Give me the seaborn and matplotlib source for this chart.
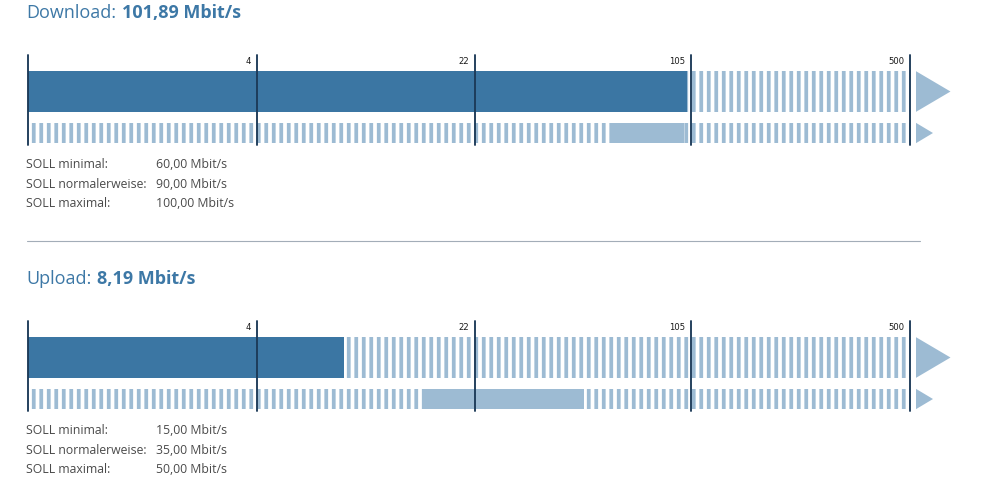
import numpy as np
import pandas as pd
import matplotlib
matplotlib.use("Agg")
import matplotlib.pyplot as plt
import matplotlib.transforms as mtransforms
from matplotlib.patches import Polygon
from matplotlib.lines import Line2D
import seaborn as sns

# ---------------- data ----------------
scale_ticks = [0, 4, 22, 105, 500]
tick_labels = ["", "4", "22", "105", "500"]
panels = ["Download", "Upload"]
measured = [101.89, 8.19]
soll_min = [60.0, 15.0]
soll_normal = [90.0, 35.0]
soll_max = [100.0, 50.0]
soll_names = ["SOLL minimal:", "SOLL normalerweise:", "SOLL maximal:"]
rows = ["Messung", "SOLL"]
unit = "Mbit/s"

# ---------------- style ----------------
DARK = "#3b76a3"
LIGHT = "#9dbbd3"
TICK = "#1c3a58"
TITLE = "#3d78a6"
TXT = "#4a4a4a"
SEP = "#a3adb8"
BODY_FONT = ["Open Sans", "DejaVu Sans"]

sns.set_theme(style="white")
plt.rcParams["font.family"] = BODY_FONT
plt.rcParams["hatch.linewidth"] = 3.0

W, H, DPI = 999, 493, 90
fig = plt.figure(figsize=(W / DPI, H / DPI), dpi=DPI)
fig.patch.set_facecolor("white")


def fx(px):
    return px / W


def fy(py):
    return 1 - py / H


def de(v):
    return f"{v:,.2f}".replace(",", "X").replace(".", ",").replace("X", ".")


# piecewise scale: each segment between ticks gets its own width,
# with a compressed (power) mapping inside the segment
SEG_W = np.array([229.5, 218.0, 216.0, 219.5])
SEG_POS = np.concatenate([[0.0], np.cumsum(SEG_W)])
EDGES = np.array(scale_ticks, dtype=float)
P = 0.1


def _g(v):
    return np.sign(v) * np.abs(v) ** P


def forward(v):
    v = np.asarray(v, dtype=float)
    k = np.clip(np.searchsorted(EDGES, v, side="right") - 1, 0, len(SEG_W) - 1)
    a, b = EDGES[k], EDGES[k + 1]
    with np.errstate(all="ignore"):
        frac = np.where(k == 0, (v - a) / (b - a), (_g(v) - _g(a)) / (_g(b) - _g(a)))
    return SEG_POS[k] + frac * SEG_W[k]


def inverse(x):
    x = np.asarray(x, dtype=float)
    k = np.clip(np.searchsorted(SEG_POS, x, side="right") - 1, 0, len(SEG_W) - 1)
    frac = (x - SEG_POS[k]) / SEG_W[k]
    a, b = EDGES[k], EDGES[k + 1]
    lin = a + frac * (b - a)
    gv = _g(a) + frac * (_g(b) - _g(a))
    with np.errstate(all="ignore"):
        pw = np.sign(gv) * np.abs(gv) ** (1 / P)
    return np.where(k == 0, lin, pw)


renderer = fig.canvas.get_renderer()
AX_L, AX_R = 27.5, 910.5
ax_w_px = AX_R - AX_L

for i, name in enumerate(panels):
    off = 266 * i
    # ---- title ----
    t1 = fig.text(fx(26), fy(18.5 + off), f"{name}:", fontsize=14.4, color=TITLE,
                  va="baseline", ha="left")
    bb = t1.get_window_extent(renderer=renderer)
    fig.text((bb.x1 + 5.5) / W, fy(18.5 + off), f"{de(measured[i])} {unit}",
             fontsize=14.4, color=TITLE, fontweight="bold", va="baseline", ha="left")

    # ---- scale axes ----
    ax = fig.add_axes([fx(AX_L), fy(145 + off), ax_w_px / W, 90 / H])
    ax.set_xscale("function", functions=(forward, inverse))
    ax.set_xlim(0, 500)

    df = pd.DataFrame({"Zeile": [rows[0]], unit: [measured[i]]})
    sns.barplot(data=df, x=unit, y="Zeile", order=rows, orient="h", width=0.98,
                color=DARK, saturation=1, errorbar=None, ax=ax, zorder=3,
                linewidth=0)

    # striped background (full scale) for both rows
    ax.barh(rows, [scale_ticks[-1]] * 2, height=[0.98, 0.48], left=0,
            color="white", edgecolor=LIGHT, hatch="||", linewidth=0, zorder=1)
    # SOLL range
    ax.barh(rows[1], soll_max[i] - soll_min[i], left=soll_min[i], height=0.48,
            color=LIGHT, linewidth=0, zorder=2)

    ax.set_ylim(1.289, -0.88)

    # tick lines + labels
    for v, lab in zip(scale_ticks, tick_labels):
        ax.axvline(v, color=TICK, lw=1.5, zorder=5, clip_on=False)
        if lab:
            ax.annotate(lab, xy=(v, 1), xycoords=("data", "axes fraction"),
                        xytext=(-6, -6.5), textcoords="offset pixels",
                        ha="right", va="center", fontsize=6.8, color="#1a1a1a",
                        family=["DejaVu Sans"])

    # arrows after the scale end
    tr = mtransforms.blended_transform_factory(ax.transAxes, ax.transData)
    x0 = 1 + 5.5 / ax_w_px
    big = Polygon([[x0, -0.49], [x0, 0.49], [1 + 40 / ax_w_px, 0.0]], closed=True,
                  transform=tr, facecolor=LIGHT, edgecolor="none", clip_on=False)
    small = Polygon([[x0, 1 - 0.245], [x0, 1 + 0.245], [1 + 22.5 / ax_w_px, 1.0]],
                    closed=True, transform=tr, facecolor=LIGHT, edgecolor="none",
                    clip_on=False)
    ax.add_patch(big)
    ax.add_patch(small)

    ax.set_xlabel("")
    ax.set_ylabel("")
    ax.set_xticks([])
    ax.set_yticks([])
    ax.minorticks_off()
    for s in ax.spines.values():
        s.set_visible(False)
    ax.set_facecolor("none")

    # ---- SOLL text ----
    vals = [soll_min[i], soll_normal[i], soll_max[i]]
    for j, (lab, v) in enumerate(zip(soll_names, vals)):
        yb = 168.3 + 19.5 * j + off
        fig.text(fx(26.5), fy(yb), lab, fontsize=9.8, color=TXT, va="baseline")
        fig.text(fx(156.5), fy(yb), f"{de(v)} {unit}", fontsize=9.8, color=TXT,
                 va="baseline")

# separator
fig.add_artist(Line2D([fx(27), fx(920)], [fy(240.5), fy(240.5)], color=SEP,
                      lw=0.9, transform=fig.transFigure))

fig.savefig("out.png", dpi=DPI, facecolor="white")
